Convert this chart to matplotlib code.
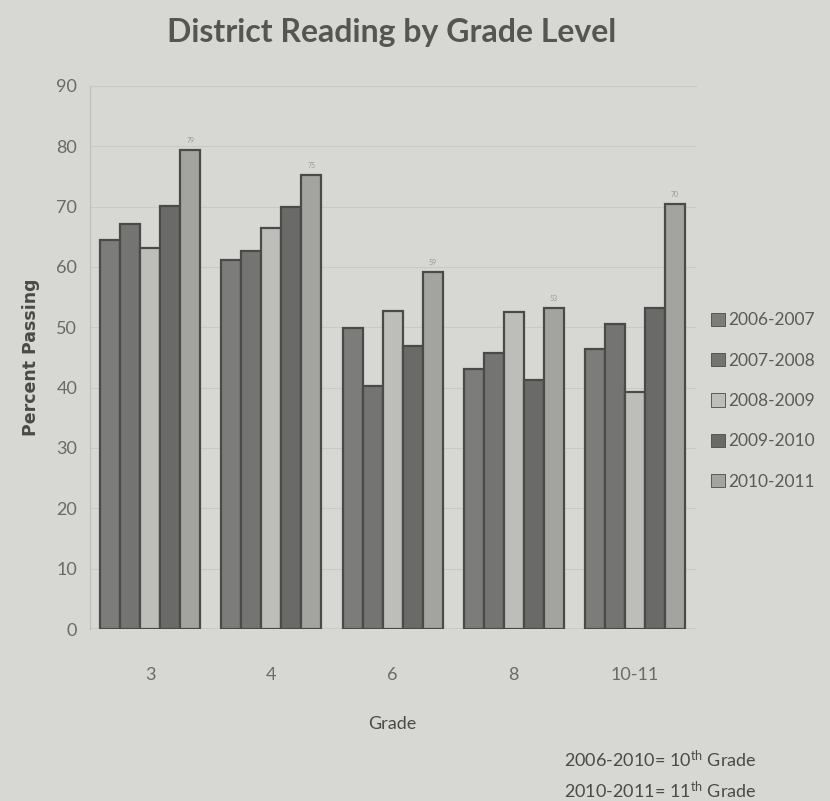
import matplotlib.pyplot as plt
import numpy as np

grades = ["3", "4", "6", "8", "10-11"]
years = ["2006-2007", "2007-2008", "2008-2009", "2009-2010", "2010-2011"]
pass_0607 = [64.5, 61.2, 49.9, 43.1, 46.4]
pass_0708 = [67.2, 62.7, 40.3, 45.8, 50.6]
pass_0809 = [63.2, 66.5, 52.7, 52.6, 39.3]
pass_0910 = [70.1, 70.0, 46.9, 41.3, 53.2]
pass_1011 = [79.4, 75.3, 59.2, 53.2, 70.5]
series = [pass_0607, pass_0708, pass_0809, pass_0910, pass_1011]

colors = ["#7c7c7a", "#747472", "#bdbdba", "#6a6a68", "#a3a3a0"]
bg = "#d7d7d4"

plt.rcParams['font.family'] = ['Lato', 'DejaVu Sans']
plt.rcParams['mathtext.default'] = 'regular'

fig = plt.figure(figsize=(8.3, 8.01), dpi=100, facecolor=bg)
ax = fig.add_axes([0.108, 0.2147, 0.730, 0.678])
ax.set_facecolor(bg)

x = np.arange(len(grades))
w = 0.165
for i, vals in enumerate(series):
    ax.bar(x + (i - 2) * w, vals, w, color=colors[i], edgecolor="#4a4a48",
           linewidth=1.6, label=years[i], zorder=3)

# faint data labels over the last series
for xi, v in zip(x, pass_1011):
    ax.text(xi + 2 * w, v + 1.0, f"{v:.0f}", ha="center", va="bottom",
            fontsize=5, color="#9a9a97")

ax.set_xlim(-0.5, len(grades) - 0.5)
ax.set_ylim(0, 90)
ax.set_yticks(range(0, 91, 10))
ax.set_xticks(x)
ax.set_xticklabels(grades)
ax.tick_params(axis="y", length=0, labelsize=13, colors="#6a6a68", pad=9)
ax.tick_params(axis="x", length=0, labelsize=13, colors="#6a6a68", pad=27)
ax.yaxis.grid(True, color="#c9c9c6", linewidth=0.8, zorder=0)
for s in ["right", "bottom"]:
    ax.spines[s].set_visible(False)
ax.spines["left"].set_color("#bdbdba")
ax.spines["top"].set_color("#c9c9c6")
ax.axhline(0, color="#9a9a97", linewidth=1, zorder=2)

ax.set_ylabel("Percent Passing", fontsize=12.5, fontweight="bold", color="#4a4a48",
              labelpad=12, family="DejaVu Sans")
ax.set_xlabel("Grade", fontsize=13, color="#4a4a48", labelpad=24)
fig.text(0.472, 0.96, "District Reading by Grade Level", ha="center", va="center",
         fontsize=23, fontweight="bold", color="#555553")

leg = ax.legend(loc="center left", bbox_to_anchor=(1.0, 0.42), frameon=False,
                fontsize=12.5, handlelength=0.8, handleheight=0.8,
                handletextpad=0.2, labelspacing=1.4, labelcolor="#5a5a58")
for h in leg.legend_handles:
    h.set_linewidth(0.6)

fig.text(0.68, 0.042, "2006-2010= 10$^{th}$ Grade", fontsize=13, color="#4a4a48")
fig.text(0.68, 0.004, "2010-2011= 11$^{th}$ Grade", fontsize=13, color="#4a4a48")

fig.savefig("out.png", dpi=100, facecolor=bg)
